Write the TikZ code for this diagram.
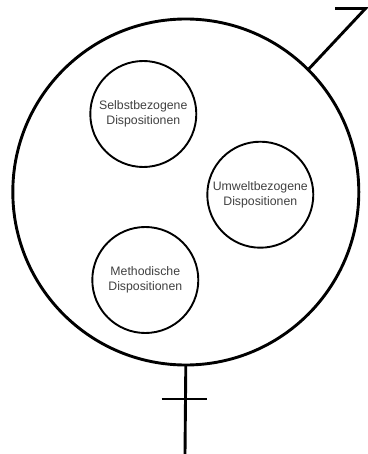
\documentclass[tikz,border=0pt]{standalone}
\usepackage{fontspec}
\setmainfont{Liberation Sans}
\begin{document}
\begin{tikzpicture}[x=1pt,y=-1pt,
  bigcircle/.style={circle,draw=black,line width=2.9pt,minimum size=346pt,inner sep=0pt,outer sep=0pt},
  dispo/.style={circle,draw=black,line width=1.9pt,minimum size=106pt,inner sep=0pt,outer sep=0pt,
    align=center,font=\fontsize{12.3}{15}\selectfont,text=black!75},
  symline/.style={line width=2.9pt,draw=black}]
\useasboundingbox (0,0) rectangle (367,454);
\node[bigcircle] (body) at (185.8,192) {};
\node[dispo] (selbst) at (143.3,114) {Selbstbezogene\\Dispositionen};
\node[dispo] (umwelt) at (260.3,194.7) {Umweltbezogene\\Dispositionen};
\node[dispo] (method) at (145.3,280) {Methodische\\Dispositionen};
% male arrow
\coordinate (mtip) at (365.5,8.5);
\coordinate (mbar) at (335,8.5);
\draw[symline] (body.45) -- (mtip) -- (mbar);
% female cross
\coordinate (fend) at (185,454);
\coordinate (fl) at (161.7,399);
\coordinate (fr) at (206.7,399);
\draw[symline] (body.south) -- (fend);
\draw[symline] (fl) -- (fr);
\end{tikzpicture}
\end{document}
